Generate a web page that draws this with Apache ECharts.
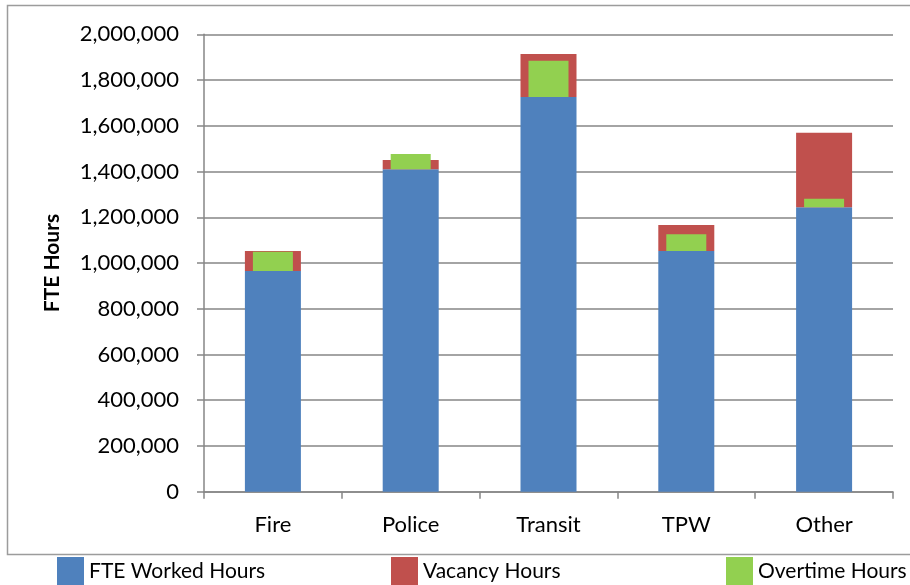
<!DOCTYPE html>
<html>
<head>
<meta charset="utf-8">
<style>
  html, body { margin: 0; padding: 0; background: #fff; }
  #chart { width: 910px; height: 585px; }
</style>
<script src="https://cdn.jsdelivr.net/npm/echarts@6/dist/echarts.min.js"></script>
</head>
<body>
<div id="chart"></div>
<script>
// Departments on the category axis
const categories = ['Fire', 'Police', 'Transit', 'TPW', 'Other'];

// Hours per department
const workedHours   = [965000, 1410000, 1726000, 1052500, 1243500];
const vacancyHours  = [87500, 40500, 188000, 113500, 326000];
const overtimeHours = [84500, 67000, 158500, 73000, 37500];

// Value axis ticks
const yMin = 0;
const yMax = 2000000;
const yStep = 200000;

const FONT = 'Lato, "Liberation Sans", sans-serif';
const AXIS_GREY = '#868686';

const chart = echarts.init(document.getElementById('chart'), null, { renderer: 'canvas' });

function legendAt(name, left) {
  return {
    data: [name],
    left: left,
    top: 552,
    padding: 5,
    itemWidth: 27,
    itemHeight: 28,
    itemGap: 0,
    selectedMode: false,
    icon: 'rect',
    textStyle: { fontFamily: FONT, fontSize: 21, color: '#000', padding: [0, 0, 0, 0] }
  };
}

chart.setOption({
  animation: false,
  backgroundColor: '#fff',
  textStyle: { fontFamily: FONT },
  graphic: [{
    type: 'rect',
    silent: true,
    shape: { x: 7.5, y: 5.5, width: 920, height: 549 },
    style: { fill: 'none', stroke: '#9c9c9c', lineWidth: 1.5 }
  }],
  legend: [
    legendAt('FTE Worked Hours', 52),
    legendAt('Vacancy Hours', 386),
    legendAt('Overtime Hours', 721)
  ],
  grid: { left: 204, right: 17, top: 34.3, bottom: 93.3, containLabel: false },
  xAxis: [
    {
      type: 'category',
      data: categories,
      axisLine: { lineStyle: { color: AXIS_GREY, width: 1.5 } },
      axisTick: { show: true, length: 7, lineStyle: { color: AXIS_GREY, width: 1.5 } },
      axisLabel: { fontFamily: FONT, fontSize: 22, color: '#000', margin: 22 }
    },
    {
      type: 'category',
      data: categories,
      show: false
    }
  ],
  yAxis: {
    type: 'value',
    min: yMin,
    max: yMax,
    interval: yStep,
    name: 'FTE Hours',
    nameLocation: 'middle',
    nameRotate: 90,
    nameGap: 141,
    nameTextStyle: { fontFamily: FONT, fontSize: 21, fontWeight: 'bold', color: '#000' },
    axisLine: { show: true, lineStyle: { color: AXIS_GREY, width: 1.5 } },
    axisTick: { show: true, length: 7, lineStyle: { color: AXIS_GREY, width: 1.5 } },
    axisLabel: {
      fontFamily: FONT, fontSize: 22, color: '#000', margin: 25,
      formatter: v => v.toLocaleString('en-US')
    },
    splitLine: { show: true, lineStyle: { color: AXIS_GREY, width: 1.5 } }
  },
  series: [
    {
      name: 'FTE Worked Hours',
      type: 'bar',
      xAxisIndex: 0,
      stack: 'vacancy',
      barWidth: 56,
      data: workedHours,
      itemStyle: { color: '#4f81bd' }
    },
    {
      name: 'Vacancy Hours',
      type: 'bar',
      xAxisIndex: 0,
      stack: 'vacancy',
      barWidth: 56,
      data: vacancyHours,
      itemStyle: { color: '#c0504d' }
    },
    {
      name: 'worked-base',
      type: 'bar',
      xAxisIndex: 1,
      stack: 'overtime',
      barWidth: 40,
      data: workedHours,
      silent: true,
      itemStyle: { color: 'rgba(0,0,0,0)' }
    },
    {
      name: 'Overtime Hours',
      type: 'bar',
      xAxisIndex: 1,
      stack: 'overtime',
      barWidth: 40,
      data: overtimeHours,
      itemStyle: { color: '#92d050' }
    }
  ]
});
</script>
</body>
</html>
